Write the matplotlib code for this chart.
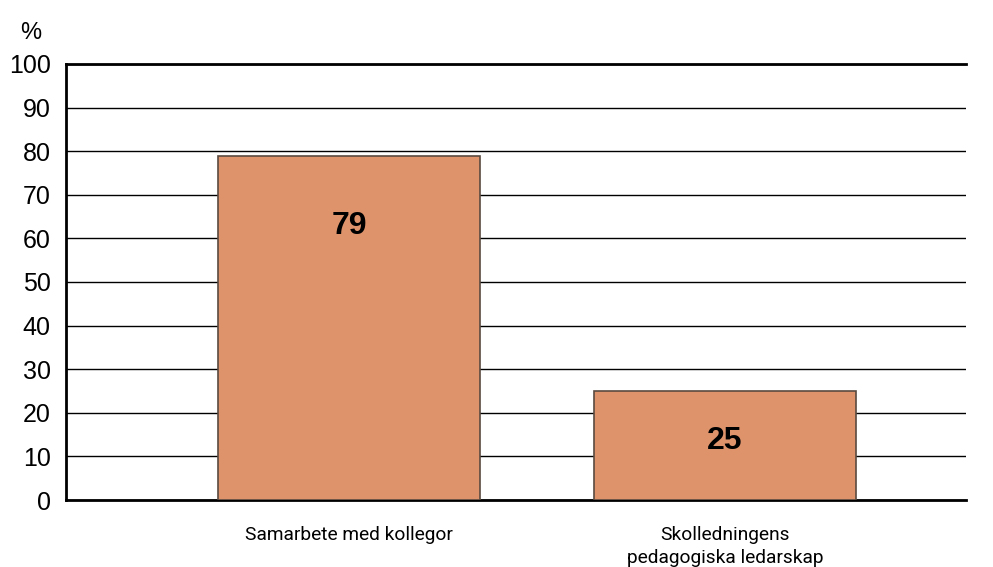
import matplotlib.pyplot as plt

categories = ["Samarbete med kollegor", "Skolledningens\npedagogiska ledarskap"]
values = [79, 25]
yticks = [0, 10, 20, 30, 40, 50, 60, 70, 80, 90, 100]

bar_color = "#DE936B"

fig = plt.figure(figsize=(9.93, 5.67), dpi=100)
ax = fig.add_axes([66 / 993, 1 - 500 / 567, 900 / 993, 436 / 567])

x = [0, 1]
ax.bar(x, values, width=0.697, color=bar_color, edgecolor="#5a4a40",
       linewidth=1.2, zorder=3)

# value labels inside the bars
label_y = [values[0] - 16.2, values[1] - 11.4]
for xi, v, ly in zip(x, values, label_y):
    ax.text(xi, ly, str(v), ha="center", va="center", fontsize=23,
            fontweight="bold", color="black", family="Liberation Sans", zorder=4)

ax.set_xlim(-0.753, 1.641)
ax.set_ylim(0, 100)
ax.set_yticks(yticks)
ax.set_yticklabels([str(t) for t in yticks], fontsize=18, family="Liberation Sans")
ax.yaxis.grid(True, color="black", linewidth=1.0, zorder=0)
ax.set_axisbelow(True)
ax.tick_params(axis="y", length=0, pad=11)
ax.tick_params(axis="x", length=0, pad=19)
ax.set_xticks(x)
ax.set_xticklabels(categories, fontsize=13.8, family=["Roboto", "DejaVu Sans"],
                   linespacing=1.3)

ax.spines["right"].set_visible(False)
for s in ["left", "bottom", "top"]:
    ax.spines[s].set_linewidth(2)
    ax.spines[s].set_color("black")

fig.text(31 / 993, 1 - 33 / 567, "%", fontsize=17, ha="center", va="center",
         family="Liberation Sans")

fig.savefig("out.png", dpi=100)
